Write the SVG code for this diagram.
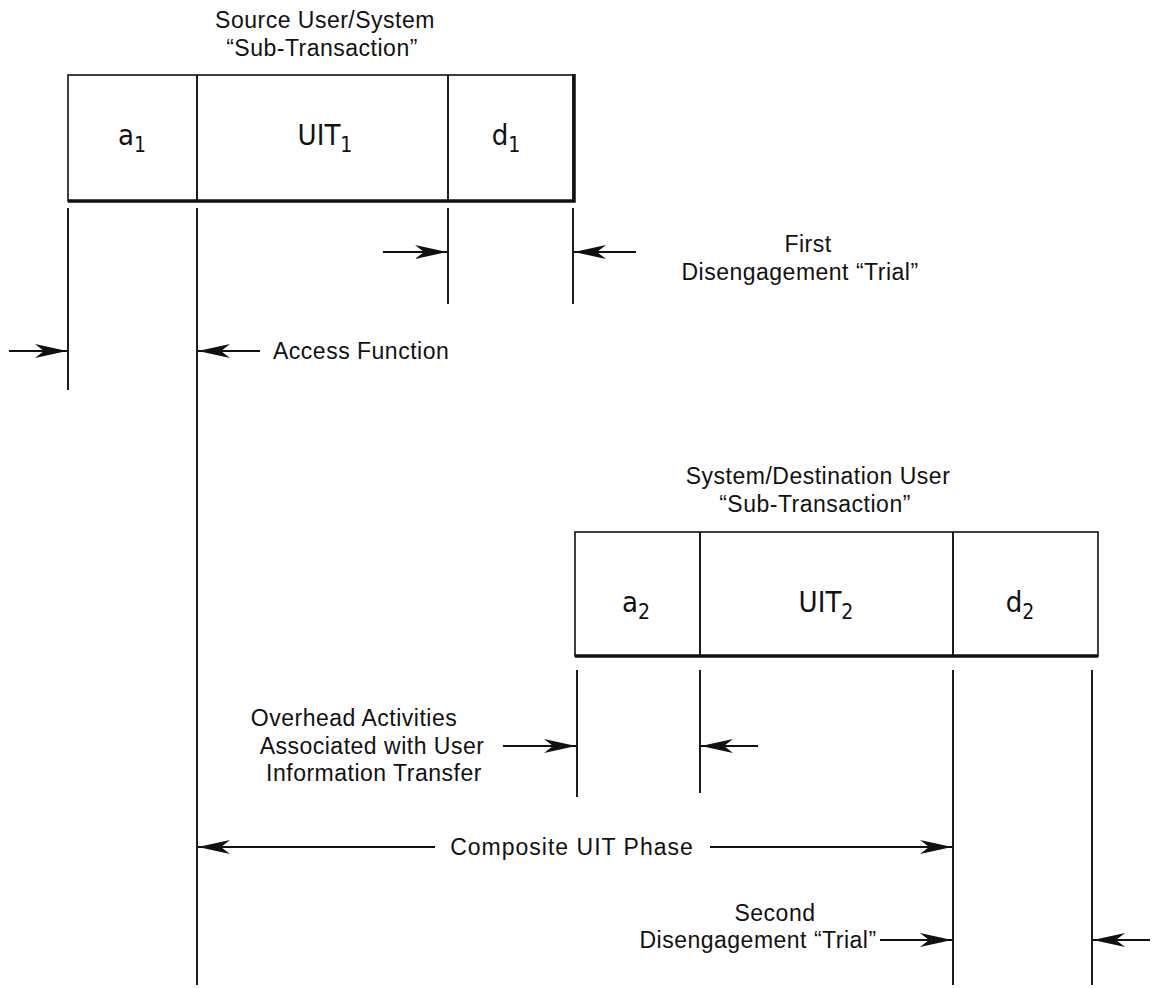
<svg xmlns="http://www.w3.org/2000/svg" width="1153" height="988" viewBox="0 0 1153 988">
<defs>
<style>
.lbl{font-family:"Liberation Sans",Arial,sans-serif;font-size:23px;letter-spacing:0.5px;fill:#111;text-anchor:middle}
.lbs{font-family:"Liberation Sans",Arial,sans-serif;font-size:23px;letter-spacing:0.5px;fill:#111;text-anchor:start}
.box{fill:#fff;stroke:#111;stroke-width:1.6}
.thick{stroke:#111;stroke-width:3.5;fill:none}
.cell{font-family:"Liberation Sans Narrow","DejaVu Sans Condensed","Liberation Sans",sans-serif;font-size:29px;fill:#111;text-anchor:middle}
.sub{font-size:21px}
.ln{stroke:#111;stroke-width:1.9;fill:none}
.ar{stroke:#111;stroke-width:1.9;fill:none;marker-end:url(#ah)}
</style>
<marker id="ah" viewBox="0 0 32 14" refX="32" refY="7" markerWidth="32" markerHeight="14" markerUnits="userSpaceOnUse" orient="auto-start-reverse">
<path d="M0,0 L32,7 L0,14 L9,7 Z" fill="#111"/>
</marker>
</defs>

<g id="title1">
<text class="lbl" x="325" y="28">Source User/System</text>
<text class="lbl" x="322" y="56">“Sub-Transaction”</text>
</g>

<g id="box1">
<rect class="box" x="68" y="75" width="505" height="126"/>
<line class="ln" x1="197" y1="75" x2="197" y2="201"/>
<line class="ln" x1="448" y1="75" x2="448" y2="201"/>
<path class="thick" d="M68,201 L574,201 L574,74"/>
<text class="cell" x="132" y="145">a<tspan class="sub" dy="7">1</tspan></text>
<text class="cell" x="325" y="145">UIT<tspan class="sub" dy="7">1</tspan></text>
<text class="cell" x="506" y="145">d<tspan class="sub" dy="7">1</tspan></text>
</g>

<g id="title2">
<text class="lbl" x="818" y="484">System/Destination User</text>
<text class="lbl" x="815" y="512">“Sub-Transaction”</text>
</g>

<g id="box2">
<rect class="box" x="575" y="532" width="523" height="124"/>
<line class="ln" x1="700" y1="532" x2="700" y2="656"/>
<line class="ln" x1="953" y1="532" x2="953" y2="656"/>
<path class="thick" d="M575,656 L1098,656"/>
<text class="cell" x="636" y="612">a<tspan class="sub" dy="7">2</tspan></text>
<text class="cell" x="826" y="612">UIT<tspan class="sub" dy="7">2</tspan></text>
<text class="cell" x="1020" y="612">d<tspan class="sub" dy="7">2</tspan></text>
</g>

<g id="label-first">
<text class="lbl" x="808" y="252">First</text>
<text class="lbl" x="800" y="280">Disengagement “Trial”</text>
</g>
<g id="label-access">
<text class="lbs" x="273" y="359">Access Function</text>
</g>
<g id="label-overhead">
<text class="lbl" x="354" y="726">Overhead Activities</text>
<text class="lbl" x="372" y="754">Associated with User</text>
<text class="lbl" x="374" y="781">Information Transfer</text>
</g>
<g id="label-composite">
<text class="lbl" x="572" y="855" style="letter-spacing:1px">Composite UIT Phase</text>
</g>
<g id="label-second">
<text class="lbl" x="775" y="921">Second</text>
<text class="lbl" x="758" y="948">Disengagement “Trial”</text>
</g>

<g id="connectors">
<line class="ln" x1="68" y1="208" x2="68" y2="390"/>
<line class="ln" x1="197" y1="208" x2="197" y2="985"/>
<line class="ln" x1="448" y1="208" x2="448" y2="304"/>
<line class="ln" x1="573" y1="208" x2="573" y2="304"/>
<line class="ln" x1="577" y1="670" x2="577" y2="797"/>
<line class="ln" x1="700" y1="670" x2="700" y2="793"/>
<line class="ln" x1="953" y1="670" x2="953" y2="985"/>
<line class="ln" x1="1092" y1="670" x2="1092" y2="985"/>
<line class="ar" x1="383" y1="252" x2="447" y2="252"/>
<line class="ar" x1="636" y1="252" x2="574" y2="252"/>
<line class="ar" x1="9" y1="351" x2="67" y2="351"/>
<line class="ar" x1="260" y1="351" x2="198" y2="351"/>
<line class="ar" x1="503" y1="746" x2="576" y2="746"/>
<line class="ar" x1="758" y1="746" x2="701" y2="746"/>
<line class="ar" x1="435" y1="847" x2="198" y2="847"/>
<line class="ar" x1="710" y1="847" x2="952" y2="847"/>
<line class="ar" x1="880" y1="940" x2="952" y2="940"/>
<line class="ar" x1="1150" y1="940" x2="1093" y2="940"/>
</g>
</svg>
